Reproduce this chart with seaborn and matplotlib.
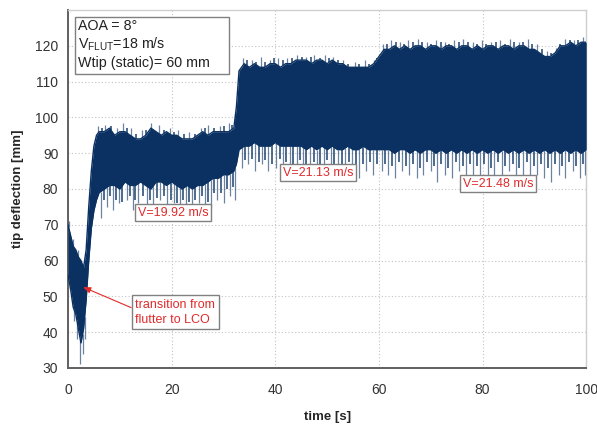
import numpy as np
import pandas as pd
import seaborn as sns
import matplotlib.pyplot as plt
from matplotlib.patches import Rectangle

time_s = [0, 0.5, 1, 1.5, 2, 2.5, 3, 3.5, 4, 4.5, 5, 5.5,
          6, 7, 8, 9, 10, 11, 12, 13, 14, 15, 16, 17, 18, 19, 20,
          21, 22, 23, 24, 25, 26, 27, 28, 29, 30, 31, 32, 32.5,
          33, 34, 35, 36, 37, 38, 39, 40, 41, 42, 43, 44, 45, 46,
          47, 48, 49, 50, 51, 52, 53, 54, 55, 56, 57, 58, 59, 60,
          61, 62, 63, 64, 65, 66, 67, 68, 69, 70, 71, 72, 73, 74,
          75, 76, 77, 78, 79, 80, 81, 82, 83, 84, 85, 86, 87, 88,
          89, 90, 91, 92, 93, 94, 95, 96, 97, 98, 99, 100]
upper_mm = [70, 67, 64, 63, 61, 60, 58, 63, 75, 85, 92, 95,
            96, 96, 97, 95, 96, 96, 95, 94, 94, 95, 97, 96, 95, 96, 95,
            95, 94, 94, 94, 95, 96, 95, 96, 96, 96, 96, 97, 103,
            113, 115, 114, 115, 114, 114, 115, 115, 114, 115, 115, 116, 116, 116,
            115, 116, 116, 115, 116, 115, 115, 114, 114, 114, 114, 114, 115, 117,
            119, 119, 120, 119, 120, 119, 120, 120, 119, 120, 120, 119, 120, 120,
            119, 120, 120, 119, 120, 119, 120, 120, 119, 120, 120, 119, 120, 120,
            119, 119, 118, 117, 117, 118, 120, 120, 121, 120, 121, 121]
lower_mm = [56, 52, 47, 45, 41, 37, 41, 49, 60, 69, 74, 77,
            79, 80, 81, 81, 80, 82, 81, 81, 82, 81, 80, 82, 82, 81, 82,
            81, 80, 81, 80, 81, 81, 82, 83, 83, 84, 84, 85, 87,
            91, 92, 92, 93, 92, 92, 92, 93, 92, 92, 92, 92, 92, 91,
            92, 91, 92, 91, 92, 91, 91, 92, 91, 91, 92, 91, 91, 91,
            91, 91, 90, 91, 91, 90, 91, 90, 91, 91, 90, 91, 90, 91,
            90, 91, 90, 91, 90, 91, 90, 91, 90, 91, 90, 91, 90, 91,
            90, 91, 90, 91, 90, 91, 90, 91, 90, 91, 90, 91]

# long excursions beyond the dense band
dip_t = [0.3, 1.2, 1.8, 2.4, 2.8, 3.2,
         6.3, 7.5, 8.6, 9.8, 11.3, 12.5, 13.6, 15.2, 16.4, 17.8, 19.1, 20.4,
         21.6, 22.7, 23.9, 25.2, 26.5, 27.6, 28.8, 30.1, 31.3, 32.2,
         33.6, 34.8, 36.1, 37.4, 38.6, 40.2, 41.5, 42.8, 44.1, 45.3, 46.7,
         48.0, 49.4, 50.7, 52.1, 53.5, 54.8, 56.2, 57.6, 58.9,
         60.5, 61.8, 63.2, 64.5, 65.9, 67.3, 68.6, 70.0, 71.3, 72.7, 74.1,
         75.5, 76.8, 78.2, 79.6, 81.0, 82.3, 83.7, 85.1, 86.4, 87.8, 89.2,
         90.6, 91.9, 93.3, 94.7, 96.0, 97.4, 98.8, 99.8]
dip_mm = [52, 43, 38, 31, 34, 38,
          72, 75, 74, 76, 77, 74, 76, 75, 74, 77, 75, 76,
          73, 75, 74, 76, 73, 75, 77, 76, 78, 77,
          86, 87, 85, 87, 85, 86, 84, 86, 84, 86, 85,
          84, 86, 85, 83, 85, 84, 83, 85, 84,
          85, 84, 83, 85, 84, 83, 84, 85, 82, 84, 83,
          85, 83, 84, 83, 82, 84, 83, 85, 83, 84, 82,
          84, 83, 82, 84, 83, 85, 83, 84]
peak_t = [0.1, 1.0, 2.0,
          5.8, 7.2, 9.4, 10.6, 12.1, 14.3, 16.0, 17.5, 19.7, 21.2, 23.4,
          25.7, 27.1, 29.3, 31.0, 32.3,
          33.8, 35.5, 37.2, 39.0, 40.6, 42.3, 44.2, 46.0, 47.5, 49.6, 51.2,
          53.0, 55.4, 57.3, 59.0,
          60.8, 62.4, 64.1, 65.7, 67.6, 69.3, 71.0, 72.8, 74.5, 76.3, 78.1,
          79.9, 81.6, 83.4, 85.2, 87.0, 88.8, 90.5, 92.4, 94.2, 95.9, 97.6, 99.3]
peak_mm = [71, 66, 63,
           97.5, 98, 97, 98.5, 97, 96.5, 98.5, 98, 97, 96.5, 96,
           97, 98, 97.5, 98.5, 98,
           116.5, 116, 117, 116, 116.5, 116.5, 117.5, 117, 117.5, 117.5, 117,
           116, 115.5, 116, 116,
           120.5, 121.5, 121, 121.5, 122, 121, 121.5, 121, 121.5, 122, 121,
           121.5, 121, 121.5, 122, 121, 122, 120.5, 118.5, 119.5, 122, 121.5, 122.5]

# shorter excursions that make up the ragged fringe
small_dip_t = [7.0, 8.1, 9.2, 10.4, 11.9, 13.0, 14.4, 15.8, 17.1, 18.5, 19.8,
               21.0, 22.2, 23.3, 24.6, 25.8, 27.1, 28.2, 29.5, 30.7, 31.8,
               34.2, 35.5, 36.8, 38.0, 39.4, 40.9, 42.1, 43.5, 44.7, 46.0,
               47.4, 48.7, 50.0, 51.4, 52.8, 54.2, 55.5, 56.9, 58.3, 59.6,
               61.1, 62.5, 63.9, 65.2, 66.6, 68.0, 69.3, 70.7, 72.0, 73.4,
               74.8, 76.2, 77.5, 78.9, 80.3, 81.7, 83.0, 84.4, 85.8, 87.1,
               88.5, 89.9, 91.3, 92.6, 94.0, 95.4, 96.7, 98.1, 99.4]
small_dip_mm = [77, 78, 77, 76.5, 78, 77, 78, 77, 77.5, 78, 77,
                76, 77, 76.5, 77, 78, 76.5, 79, 79, 80, 80.5,
                88, 88.5, 87.5, 88, 87, 88.5, 87.5, 87, 88, 87,
                87.5, 87, 88, 87, 86.5, 87.5, 86.5, 87, 87.5, 87,
                87, 86.5, 87.5, 86.5, 87, 86, 87.5, 86.5, 87, 86,
                87.5, 86.5, 87, 86.5, 87, 86, 87.5, 86.5, 87, 86,
                87.5, 86.5, 87, 86, 87, 86.5, 87.5, 86.5, 87]
small_peak_t = [6.6, 8.3, 11.4, 13.2, 15.1, 18.6, 20.4, 22.3, 24.5, 26.4,
                28.2, 30.1, 31.7,
                34.6, 36.3, 38.1, 39.8, 41.5, 43.2, 45.1, 46.8, 48.6, 50.4,
                52.1, 54.0, 56.2, 58.1, 59.6,
                61.6, 63.3, 64.9, 66.6, 68.4, 70.1, 71.9, 73.6, 75.4, 77.2,
                79.0, 80.7, 82.5, 84.3, 86.1, 87.9, 89.6, 91.4, 93.3, 95.0,
                96.8, 98.5]
small_peak_mm = [97, 97.5, 97, 95.5, 96.5, 96.5, 96, 95.5, 95.5, 97,
                 97, 97.5, 98,
                 116, 115.5, 115.5, 116.5, 116, 116.5, 117, 117, 116.5, 116.5,
                 116, 115, 115, 115, 116.5,
                 120.5, 121, 120.5, 121, 121, 120.5, 121, 120.5, 121, 121,
                 120.5, 120.5, 121, 120.5, 121, 121, 120.5, 119, 118, 120.5,
                 121.5, 121.5]

navy = '#0a3161'
red = '#e02a2c'

sns.set_style('white')
plt.rcParams['font.family'] = ['Liberation Sans', 'DejaVu Sans']
plt.rcParams['mathtext.fontset'] = 'custom'
plt.rcParams['mathtext.rm'] = 'Liberation Sans'

fig = plt.figure(figsize=(5.97, 4.24), dpi=100)
ax = fig.add_axes([0.1139, 0.1321, 0.868, 0.8443])

t = np.array(time_s)
lo = np.array(lower_mm)
hi = np.array(upper_mm)

# dense band
ax.fill_between(t, lo, hi, color=navy, lw=0, zorder=3)

edges = pd.DataFrame({'time': np.concatenate([t, t]),
                      'mm': np.concatenate([hi, lo]),
                      'edge': ['upper'] * len(t) + ['lower'] * len(t)})
sns.lineplot(data=edges, x='time', y='mm', hue='edge',
             palette={'upper': navy, 'lower': navy}, lw=1.0,
             legend=False, ax=ax, zorder=3)

# spikes
ax.vlines(dip_t, dip_mm, np.interp(dip_t, t, lo), color=navy, lw=0.9, alpha=0.6, zorder=3)
ax.vlines(peak_t, np.interp(peak_t, t, hi), peak_mm, color=navy, lw=0.9, alpha=0.6, zorder=3)
ax.vlines(small_dip_t, small_dip_mm, np.interp(small_dip_t, t, lo), color=navy, lw=1.2,
          alpha=0.85, zorder=3)
ax.vlines(small_peak_t, np.interp(small_peak_t, t, hi), small_peak_mm, color=navy, lw=1.2,
          alpha=0.85, zorder=3)

ax.set_xlim(0, 100)
ax.set_ylim(30, 130)
ax.set_xticks([0, 20, 40, 60, 80, 100])
ax.set_yticks([30, 40, 50, 60, 70, 80, 90, 100, 110, 120])
ax.grid(True, color='#c4c4c4', lw=0.8, ls=(0, (1, 2)))
ax.set_axisbelow(True)

for side in ['top', 'right']:
    ax.spines[side].set_color('#cfcfcf')
    ax.spines[side].set_linewidth(1.0)
for side in ['left', 'bottom']:
    ax.spines[side].set_color('#606060')
    ax.spines[side].set_linewidth(1.4)
ax.tick_params(axis='y', direction='out', length=4, width=1.2, color='#606060',
               labelsize=10, labelcolor='#333333', pad=3)
ax.tick_params(axis='x', direction='inout', length=6, width=1.2, color='#606060',
               labelsize=10, labelcolor='#333333', pad=8)

ax.set_xlabel('time [s]', fontsize=9.5, fontweight='bold', labelpad=10)
ax.set_ylabel('tip deflection [mm]', fontsize=9.5, fontweight='bold', labelpad=8)

# info box
ax.add_patch(Rectangle((0.0135, 0.822), 0.297, 0.158, transform=ax.transAxes,
                       fc='white', ec='#808080', lw=1.0, zorder=5))
info = ['AOA = 8°', r'V$_{\mathregular{FLUT}}$=18 m/s', 'Wtip (static)= 60 mm']
for i, line in enumerate(info):
    ax.text(0.02, 0.955 - i * 0.052, line, transform=ax.transAxes, fontsize=10.3,
            va='center', ha='left', color='#222222', zorder=6)

box = dict(boxstyle='square,pad=0.2', fc='white', ec='#808080', lw=1.0)
ax.text(20.3, 73.3, 'V=19.92 m/s', color=red, fontsize=9, ha='center', va='center',
        bbox=box, zorder=6)
ax.text(48.2, 84.6, 'V=21.13 m/s', color=red, fontsize=9, ha='center', va='center',
        bbox=box, zorder=6)
ax.text(83.0, 81.5, 'V=21.48 m/s', color=red, fontsize=9, ha='center', va='center',
        bbox=box, zorder=6)

ax.annotate('transition from\nflutter to LCO', xy=(2.9, 52.6), xytext=(13.0, 45.6),
            color=red, fontsize=9, ha='left', va='center', linespacing=1.35,
            bbox=dict(boxstyle='square,pad=0.3', fc='white', ec='#808080', lw=1.0),
            arrowprops=dict(arrowstyle='-|>,head_length=0.5,head_width=0.2', color=red,
                            lw=0.8, relpos=(0, 0.6), shrinkA=0, shrinkB=0),
            zorder=6)

fig.savefig('out.png', dpi=100)
